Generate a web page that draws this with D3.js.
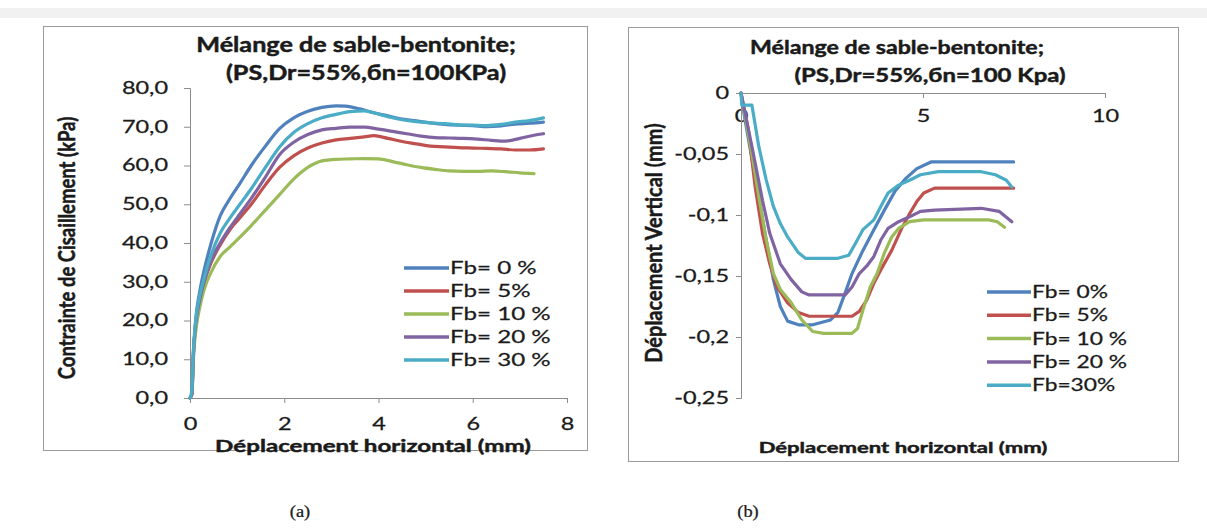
<!DOCTYPE html>
<html>
<head>
<meta charset="utf-8">
<script src="https://cdn.jsdelivr.net/npm/d3@7"></script>
<style>
  html, body { margin: 0; padding: 0; background: #ffffff; }
  svg { display: block; }
</style>
</head>
<body>
<svg id="fig" width="1207" height="530"></svg>
<script>
// ---- series labels and colours ----
const seriesNames = ["Fb= 0 %", "Fb= 5%", "Fb= 10 %", "Fb= 20 %", "Fb= 30 %"];
const seriesNamesB = ["Fb= 0%", "Fb= 5%", "Fb= 10 %", "Fb= 20 %", "Fb=30%"];
const seriesColors = ["#4F81BD", "#C0504D", "#9BBB59", "#8064A2", "#4BACC6"];

// ---- (a) shear stress [kPa] vs horizontal displacement [mm] ----
const shearFb0 = [[0,0],[0.04,1],[0.07,10],[0.12,20],[0.2,27],[0.3,33],[0.45,40],[0.64,47],[0.85,51.5],[1.06,55.4],[1.3,60],[1.6,65],[1.9,69.5],[2.2,72.3],[2.5,74],[2.8,75],[3.1,75.4],[3.3,75.3],[3.6,74.6],[3.9,73.6],[4.2,72.8],[4.5,72],[4.8,71.5],[5.1,71],[5.4,70.6],[5.7,70.4],[6.0,70.3],[6.3,70],[6.6,70.2],[6.9,70.7],[7.2,70.9],[7.5,71.2]];
const shearFb5 = [[0,0],[0.04,1],[0.07,11],[0.12,19],[0.2,25],[0.3,30],[0.45,35],[0.64,39.5],[0.85,43.5],[1.06,46.5],[1.3,50],[1.6,55],[1.9,59.5],[2.2,62.5],[2.5,64.5],[2.8,65.8],[3.1,66.6],[3.4,67],[3.7,67.4],[3.9,67.7],[4.2,67],[4.5,66.2],[4.8,65.6],[5.1,65],[5.4,64.8],[5.7,64.6],[6.0,64.5],[6.3,64.4],[6.6,64.3],[6.9,64],[7.2,64],[7.5,64.3]];
const shearFb10 = [[0,0],[0.04,1],[0.07,10],[0.12,17],[0.2,23],[0.3,28],[0.45,32.5],[0.64,36.5],[0.85,39],[1.06,41.5],[1.3,44.5],[1.6,48.5],[1.9,52.5],[2.2,56.5],[2.5,59.5],[2.8,61.2],[3.1,61.6],[3.4,61.7],[3.7,61.8],[4.0,61.7],[4.3,61],[4.6,60.2],[4.9,59.5],[5.2,59],[5.5,58.6],[5.8,58.5],[6.1,58.5],[6.4,58.6],[6.7,58.4],[7.0,58.1],[7.3,57.9]];
const shearFb20 = [[0,0],[0.04,1],[0.07,11],[0.12,19],[0.2,25],[0.3,30],[0.45,35.5],[0.64,40],[0.85,44],[1.06,47.5],[1.3,51.5],[1.6,57],[1.9,62.8],[2.2,66],[2.5,68],[2.8,69.2],[3.1,69.6],[3.4,69.9],[3.7,69.9],[4.0,69.4],[4.3,68.8],[4.6,68.2],[4.9,67.6],[5.2,67.2],[5.5,67.1],[5.8,67],[6.1,66.8],[6.4,66.5],[6.7,66.3],[7.0,67],[7.3,67.8],[7.5,68.2]];
const shearFb30 = [[0,0],[0.04,2],[0.07,12],[0.12,20],[0.2,26],[0.3,31],[0.45,37],[0.64,42.5],[0.85,46.5],[1.06,50],[1.3,54],[1.6,59.5],[1.9,64.8],[2.2,68.5],[2.5,70.8],[2.8,72.3],[3.1,73.2],[3.4,73.9],[3.7,74.1],[3.9,73.6],[4.2,72.6],[4.5,71.8],[4.8,71.3],[5.1,71],[5.4,70.8],[5.7,70.5],[6.0,70.4],[6.3,70.3],[6.6,70.6],[6.9,71.2],[7.2,71.6],[7.5,72.3]];

const shearTicksX = [0, 2, 4, 6, 8];
const shearTicksY = [0, 10, 20, 30, 40, 50, 60, 70, 80];

// ---- (b) vertical displacement [mm] vs horizontal displacement [mm] ----
const vertFb0 = [[0,0],[0.1,-0.02],[0.39,-0.069],[0.69,-0.12],[0.89,-0.153],[1.08,-0.175],[1.28,-0.187],[1.58,-0.19],[1.97,-0.19],[2.46,-0.186],[2.66,-0.18],[2.86,-0.164],[3.05,-0.148],[3.35,-0.129],[3.65,-0.112],[3.94,-0.096],[4.24,-0.08],[4.53,-0.07],[4.83,-0.062],[5.22,-0.0565],[7.49,-0.0565]];
const vertFb5 = [[0,0],[0.2,-0.03],[0.39,-0.077],[0.59,-0.115],[0.79,-0.14],[0.99,-0.159],[1.28,-0.172],[1.58,-0.18],[1.87,-0.183],[3.05,-0.183],[3.25,-0.179],[3.45,-0.17],[3.65,-0.156],[3.84,-0.145],[4.14,-0.129],[4.43,-0.11],[4.63,-0.099],[4.83,-0.089],[5.02,-0.082],[5.32,-0.078],[7.49,-0.078]];
const vertFb10 = [[0,0],[0.3,-0.05],[0.49,-0.085],[0.69,-0.12],[0.89,-0.148],[1.08,-0.161],[1.38,-0.172],[1.67,-0.186],[1.97,-0.1955],[2.27,-0.197],[3.05,-0.197],[3.2,-0.193],[3.35,-0.178],[3.55,-0.159],[3.74,-0.148],[3.94,-0.131],[4.14,-0.118],[4.33,-0.111],[4.63,-0.1055],[5.02,-0.104],[6.8,-0.104],[7.04,-0.1055],[7.24,-0.11]];
const vertFb20 = [[0,0],[0.3,-0.044],[0.59,-0.088],[0.79,-0.115],[1.08,-0.14],[1.38,-0.153],[1.67,-0.163],[1.87,-0.1655],[2.86,-0.1655],[3.05,-0.159],[3.25,-0.148],[3.45,-0.142],[3.65,-0.134],[3.84,-0.1205],[4.04,-0.111],[4.33,-0.1055],[4.63,-0.1015],[4.93,-0.097],[5.32,-0.096],[6.6,-0.0945],[7.09,-0.097],[7.44,-0.1055]];
const vertFb30 = [[0,0],[0.02,-0.01],[0.3,-0.01],[0.49,-0.044],[0.69,-0.071],[0.89,-0.093],[1.08,-0.107],[1.28,-0.118],[1.58,-0.131],[1.77,-0.1355],[2.66,-0.1355],[2.96,-0.133],[3.15,-0.123],[3.35,-0.112],[3.65,-0.104],[3.84,-0.093],[4.04,-0.082],[4.33,-0.0755],[4.63,-0.0715],[4.93,-0.067],[5.42,-0.0645],[6.6,-0.0645],[6.99,-0.067],[7.29,-0.0715],[7.44,-0.077]];

const vertTicksX = [0, 5, 10];
const vertTicksY = [0, -0.05, -0.1, -0.15, -0.2, -0.25];

const shearSeries = [shearFb0, shearFb5, shearFb10, shearFb20, shearFb30];
const vertSeries = [vertFb0, vertFb5, vertFb10, vertFb20, vertFb30];

const svg = d3.select("#fig");
const axisGrey = "#8c8c8c";
const ink = "#1a1a1a";
const FONT = "Lato, 'Open Sans', sans-serif";
const SX = 1.38;                      // horizontal widening of the lettering
const comma = v => String(v).replace(".", ",");

// text placed at (x, y) and widened horizontally by sx
function label(parent, x, y, str, o = {}) {
  const sx = o.sx ?? SX;
  const rot = o.rotate ? ` rotate(${o.rotate})` : "";
  const bold = (o.weight ?? 400) >= 700;
  return parent.append("text")
    .attr("transform", `translate(${x},${y}) scale(${sx},1)${rot}`)
    .attr("text-anchor", o.anchor ?? "middle")
    .attr("dy", o.dy ?? null)
    .style("font-family", o.family ?? FONT)
    .style("font-size", `${o.size ?? 17}px`)
    .style("font-weight", o.weight ?? 400)
    .style("fill", ink)
    .style("stroke", ink)
    .style("stroke-width", bold ? 0.45 : 0.25)
    .style("paint-order", "stroke")
    .text(str);
}

function styleAxis(g, size, side) {
  g.selectAll("path, line").attr("stroke", axisGrey).attr("stroke-width", 1);
  g.selectAll("text").each(function () {
    const t = d3.select(this);
    t.style("font-family", FONT).style("font-size", `${size}px`).style("fill", ink)
      .style("stroke", ink).style("stroke-width", 0.25);
    if (side === "left") {
      const x = +t.attr("x");
      t.attr("x", 0).attr("transform", `translate(${x},0) scale(${SX},1)`);
    } else {
      t.attr("transform", `scale(${SX},1)`);
    }
  });
}

// faint band across the top of the page
svg.append("rect").attr("x", 0).attr("y", 8).attr("width", 1207).attr("height", 10).attr("fill", "#f1f1f1");

// chart frames
svg.append("rect").attr("x", 43.5).attr("y", 26.5).attr("width", 544).attr("height", 424)
  .attr("fill", "#fff").attr("stroke", "#9a9a9a");
svg.append("rect").attr("x", 628.5).attr("y", 27.5).attr("width", 550).attr("height", 434)
  .attr("fill", "#fff").attr("stroke", "#9a9a9a");

// ---------- panel (a) ----------
const xA = d3.scaleLinear().domain([0, 8]).range([190, 567]);
const yA = d3.scaleLinear().domain([0, 80]).range([398, 88]);

const gA = svg.append("g");
gA.append("g").attr("transform", `translate(0,${yA(0)})`)
  .call(d3.axisBottom(xA).tickValues(shearTicksX).tickSize(5).tickSizeOuter(5).tickPadding(15).tickFormat(d3.format("d")))
  .call(g => styleAxis(g, 17, "bottom"));
gA.append("g").attr("transform", `translate(${xA(0)},0)`)
  .call(d3.axisLeft(yA).tickValues(shearTicksY).tickSize(6).tickSizeOuter(6).tickPadding(16).tickFormat(v => comma(v.toFixed(1))))
  .call(g => styleAxis(g, 17, "left"));

const lineA = d3.line().x(d => xA(d[0])).y(d => yA(d[1])).curve(d3.curveMonotoneX);
gA.selectAll("path.series").data(shearSeries).join("path")
  .attr("class", "series").attr("d", lineA).attr("fill", "none")
  .attr("stroke", (d, i) => seriesColors[i]).attr("stroke-width", 3.2)
  .attr("stroke-linejoin", "round").attr("stroke-linecap", "round");

label(gA, 356, 52, "Mélange de sable-bentonite;", { size: 20, weight: 700, sx: 1.26 });
label(gA, 366, 80, "(PS,Dr=55%,бn=100KPa)", { size: 20, weight: 700, sx: 1.26 });
label(gA, 373, 452, "Déplacement horizontal (mm)", { size: 17.5, weight: 700 });
label(gA, 75, 248, "Contrainte de Cisaillement (kPa)", { size: 18.5, weight: 700, sx: 1.2, rotate: -90 });

const legA = gA.selectAll("g.leg").data(seriesNames).join("g").attr("class", "leg")
  .attr("transform", (d, i) => `translate(404,${268 + i * 23})`);
legA.append("line").attr("x1", 0).attr("x2", 45).attr("stroke", (d, i) => seriesColors[i]).attr("stroke-width", 3.5);
legA.each(function (d) { label(d3.select(this), 46, 0, d, { size: 17.5, anchor: "start", dy: "0.36em" }); });

// ---------- panel (b) ----------
const xB = d3.scaleLinear().domain([0, 10]).range([741, 1105]);
const yB = d3.scaleLinear().domain([-0.25, 0]).range([398, 93]);

const gB = svg.append("g");
gB.append("g").attr("transform", `translate(0,${yB(0)})`)
  .call(d3.axisBottom(xB).tickValues(vertTicksX).tickSize(5).tickSizeOuter(5).tickPadding(12).tickFormat(d3.format("d")))
  .call(g => styleAxis(g, 17, "bottom"));
gB.append("g").attr("transform", `translate(${xB(0)},0)`)
  .call(d3.axisLeft(yB).tickValues(vertTicksY).tickSize(5).tickSizeOuter(5).tickPadding(7).tickFormat(v => comma(v)))
  .call(g => styleAxis(g, 17, "left"));

const lineB = d3.line().x(d => xB(d[0])).y(d => yB(d[1]));
gB.selectAll("path.series").data(vertSeries).join("path")
  .attr("class", "series").attr("d", lineB).attr("fill", "none")
  .attr("stroke", (d, i) => seriesColors[i]).attr("stroke-width", 3.2)
  .attr("stroke-linejoin", "round").attr("stroke-linecap", "round");

label(gB, 897, 54, "Mélange de sable-bentonite;", { size: 19, weight: 700, sx: 1.22 });
label(gB, 930, 82, "(PS,Dr=55%,бn=100 Kpa)", { size: 19, weight: 700, sx: 1.26 });
label(gB, 903, 453, "Déplacement horizontal (mm)", { size: 16, weight: 700 });
label(gB, 662, 243, "Déplacement Vertical (mm)", { size: 20, weight: 700, sx: 1.15, rotate: -90 });

const legB = gB.selectAll("g.leg").data(seriesNamesB).join("g").attr("class", "leg")
  .attr("transform", (d, i) => `translate(987,${292 + i * 23.3})`);
legB.append("line").attr("x1", 0).attr("x2", 44).attr("stroke", (d, i) => seriesColors[i]).attr("stroke-width", 3.5);
legB.each(function (d) { label(d3.select(this), 45, 0, d, { size: 16.5, anchor: "start", dy: "0.36em" }); });

// ---------- captions ----------
label(svg, 300, 517, "(a)", { size: 16, sx: 1.15, family: "'Liberation Serif', 'DejaVu Serif', serif" });
label(svg, 748, 517, "(b)", { size: 16, sx: 1.15, family: "'Liberation Serif', 'DejaVu Serif', serif" });
</script>
</body>
</html>
